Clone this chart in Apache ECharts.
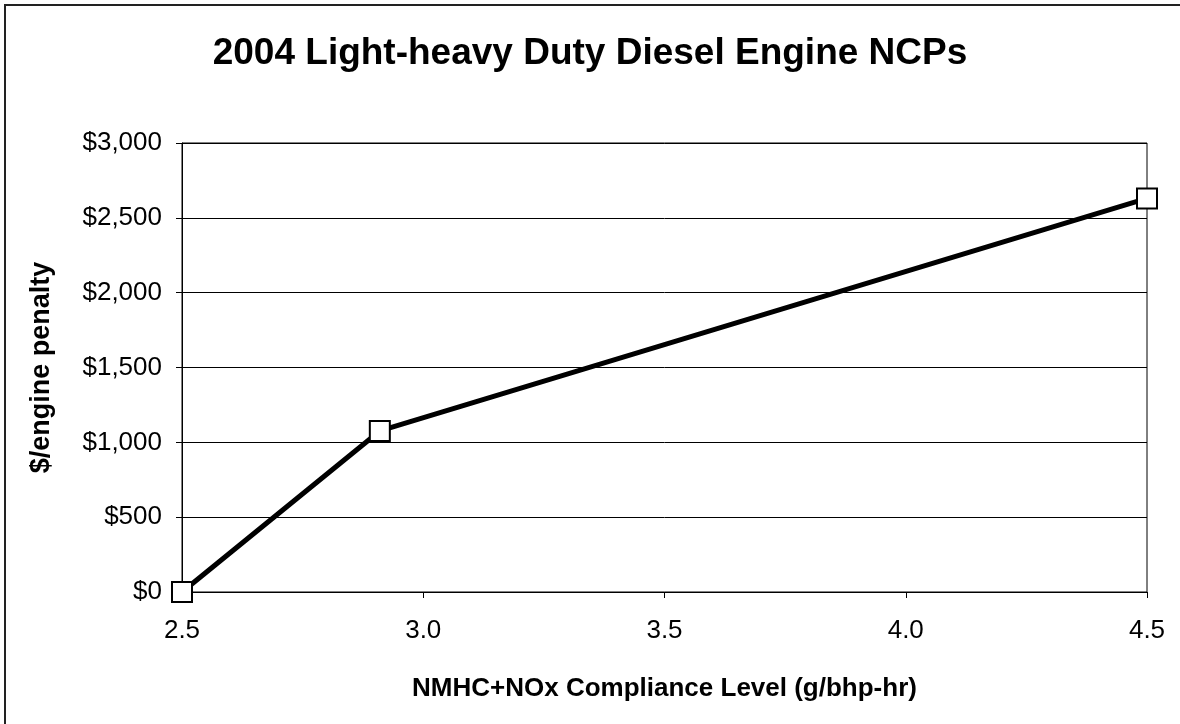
<!DOCTYPE html>
<html>
<head>
<meta charset="utf-8">
<script src="https://cdn.jsdelivr.net/npm/echarts@6/dist/echarts.min.js"></script>
<style>
html,body{margin:0;padding:0;background:#fff;overflow:hidden;}
#frame{position:absolute;left:4px;top:4px;width:1300px;height:900px;border-left:2px solid #222;border-top:2px solid #222;box-sizing:border-box;}
#chart{position:absolute;left:0;top:0;width:1180px;height:724px;}
</style>
</head>
<body>
<div id="frame"></div>
<div id="chart"></div>
<script>
const titleText = '2004 Light-heavy Duty Diesel Engine NCPs';
const xName = 'NMHC+NOx Compliance Level (g/bhp-hr)';
const yName = '$/engine penalty';
const complianceLevel = [2.5, 2.91, 4.5];
const penalty = [0, 1076, 2630];

const chart = echarts.init(document.getElementById('chart'), null, {renderer: 'canvas'});
const font = '"Liberation Sans", Arial, sans-serif';
chart.setOption({
  animation: false,
  backgroundColor: 'transparent',
  title: {
    text: titleText, left: 'center', top: 30,
    textStyle: {fontFamily: font, fontSize: 37, fontWeight: 'bold', color: '#000'}
  },
  grid: {left: 182, right: 33, top: 143, bottom: 132, show: true, borderColor: '#000', borderWidth: 1},
  xAxis: {
    type: 'value', min: 2.5, max: 4.5, interval: 0.5,
    name: xName, nameLocation: 'middle', nameGap: 84,
    nameTextStyle: {fontFamily: font, fontSize: 26, fontWeight: 'bold', color: '#000'},
    axisLine: {show: true, lineStyle: {color: '#000', width: 1}},
    axisTick: {show: true, inside: false, length: 6, lineStyle: {color: '#000'}},
    axisLabel: {fontFamily: font, fontSize: 26, color: '#000', margin: 26,
      formatter: v => v.toFixed(1)},
    splitLine: {show: false}
  },
  yAxis: {
    type: 'value', min: 0, max: 3000, interval: 500,
    name: yName, nameLocation: 'middle', nameGap: 127,
    nameTextStyle: {fontFamily: font, fontSize: 27, fontWeight: 'bold', color: '#000'},
    axisLine: {show: true, lineStyle: {color: '#000', width: 1}},
    axisTick: {show: true, inside: false, length: 6, lineStyle: {color: '#000'}},
    axisLabel: {fontFamily: font, fontSize: 26, color: '#000', margin: 20,
      formatter: v => '$' + v.toLocaleString('en-US')},
    splitLine: {show: true, lineStyle: {color: '#000', width: 1}}
  },
  series: [{
    type: 'line',
    data: complianceLevel.map((x, i) => [x, penalty[i]]),
    lineStyle: {color: '#000', width: 5},
    symbol: 'rect', symbolSize: 20,
    itemStyle: {color: '#fff', borderColor: '#000', borderWidth: 2},
    z: 5
  }]
});
</script>
</body>
</html>
